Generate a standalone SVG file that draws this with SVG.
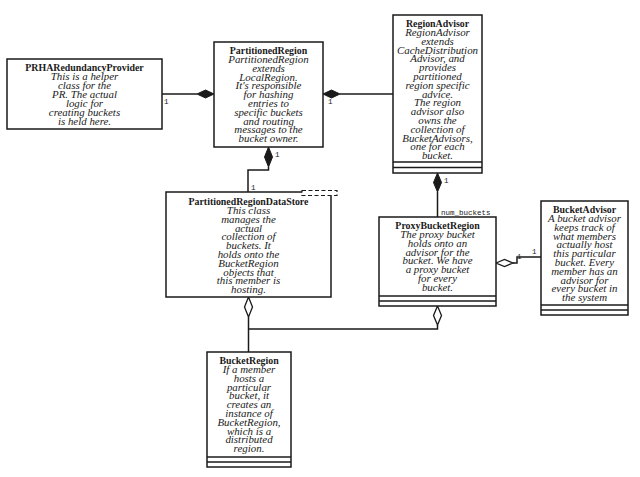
<svg xmlns="http://www.w3.org/2000/svg" width="640" height="477" viewBox="0 0 640 477">
<style>
.box{fill:#fff;stroke:#1a1a1a;stroke-width:1.5}
.cmp{stroke:#1a1a1a;stroke-width:1.5;fill:none}
.t{font-family:"Liberation Serif","Times New Roman",serif;font-weight:bold;font-size:9.9px;fill:#1a1a1a;text-anchor:middle}
.d{font-family:"Liberation Serif","Times New Roman",serif;font-style:italic;font-size:10.9px;fill:#1a1a1a;text-anchor:middle}
.ln{fill:none;stroke:#1a1a1a;stroke-width:1.5}
.fd{fill:#1a1a1a;stroke:#1a1a1a;stroke-width:1}
.hd{fill:#fff;stroke:#1a1a1a;stroke-width:1.3}
.m{font-family:"Liberation Mono","Courier New",monospace;font-size:7.5px;fill:#1a1a1a}
.tpl{fill:#fff;stroke:#1a1a1a;stroke-width:1.2;stroke-dasharray:4,2.5}
</style>
<rect width="640" height="477" fill="#fff"/>

<g id="connectors">
<line class="ln" x1="162" y1="94" x2="197" y2="94"/>
<polygon class="fd" points="214,94 205.5,90 197,94 205.5,98"/>
<text class="m" x="164" y="104">1</text>

<line class="ln" x1="340" y1="94" x2="393" y2="94"/>
<polygon class="fd" points="323,94 331.5,90 340,94 331.5,98"/>
<text class="m" x="328" y="104">1</text>
<text class="m" x="396" y="91">1</text>

<polygon class="fd" points="268.5,147 272.5,157 268.5,167 264.5,157"/>
<polyline class="ln" points="268.5,167 268.5,170 248,170 248,192"/>
<text class="m" x="275" y="157">1</text>
<text class="m" x="251" y="190">1</text>

<polygon class="fd" points="437.5,173 441.5,182.5 437.5,192 433.5,182.5"/>
<line class="ln" x1="437.5" y1="192" x2="437.5" y2="217"/>
<text class="m" x="444" y="183">1</text>
<text class="m" x="441" y="215">num_buckets</text>

<polygon class="hd" points="496,263 504.5,259.5 513,263 504.5,266.5"/>
<polyline class="ln" points="513,263 517,263 517,257 541,257"/>
<text class="m" x="517" y="259">1</text>
<text class="m" x="532" y="254">1</text>

<polygon class="hd" points="248.5,297 252.5,307 248.5,317 244.5,307"/>
<polygon class="hd" points="437.5,306 441.5,315.5 437.5,325 433.5,315.5"/>
<polyline class="ln" points="248.5,317 248.5,352"/>
<polyline class="ln" points="248.5,329 437.5,329 437.5,325"/>
</g>

<g id="PRHARedundancyProvider">
<rect class="box" x="7" y="59" width="155" height="70"/>
<text class="t" x="84.5" y="71">PRHARedundancyProvider</text>
<text class="d" x="84.5" y="80">This is a helper</text>
<text class="d" x="84.5" y="89">class for the</text>
<text class="d" x="84.5" y="98">PR. The actual</text>
<text class="d" x="84.5" y="107">logic for</text>
<text class="d" x="84.5" y="116">creating buckets</text>
<text class="d" x="84.5" y="125">is held here.</text>
</g>

<g id="PartitionedRegion">
<rect class="box" x="214" y="42" width="109" height="105"/>
<text class="t" x="268.5" y="54">PartitionedRegion</text>
<text class="d" x="268.5" y="63">PartitionedRegion</text>
<text class="d" x="268.5" y="71.8">extends</text>
<text class="d" x="268.5" y="80.6">LocalRegion.</text>
<text class="d" x="268.5" y="89.4">It's responsible</text>
<text class="d" x="268.5" y="98.2">for hashing</text>
<text class="d" x="268.5" y="107">entries to</text>
<text class="d" x="268.5" y="115.8">specific buckets</text>
<text class="d" x="268.5" y="124.6">and routing</text>
<text class="d" x="268.5" y="133.4">messages to the</text>
<text class="d" x="268.5" y="142.2">bucket owner.</text>
</g>

<g id="RegionAdvisor">
<rect class="box" x="393" y="15" width="89" height="158"/>
<line class="cmp" x1="393" y1="162" x2="482" y2="162"/>
<line class="cmp" x1="393" y1="167.5" x2="482" y2="167.5"/>
<text class="t" x="437.5" y="27">RegionAdvisor</text>
<text class="d" x="437.5" y="36">RegionAdvisor</text>
<text class="d" x="437.5" y="44.8">extends</text>
<text class="d" x="437.5" y="53.6">CacheDistribution</text>
<text class="d" x="437.5" y="62.4">Advisor, and</text>
<text class="d" x="437.5" y="71.2">provides</text>
<text class="d" x="437.5" y="80">partitioned</text>
<text class="d" x="437.5" y="88.8">region specific</text>
<text class="d" x="437.5" y="97.6">advice.</text>
<text class="d" x="437.5" y="106.4">The region</text>
<text class="d" x="437.5" y="115.2">advisor also</text>
<text class="d" x="437.5" y="124">owns the</text>
<text class="d" x="437.5" y="132.8">collection of</text>
<text class="d" x="437.5" y="141.6">BucketAdvisors,</text>
<text class="d" x="437.5" y="150.4">one for each</text>
<text class="d" x="437.5" y="159.2">bucket.</text>
</g>

<g id="PartitionedRegionDataStore">
<rect class="box" x="166" y="192" width="165" height="105"/>
<rect class="tpl" x="302" y="190.5" width="35" height="5"/>
<text class="t" x="248.5" y="205">PartitionedRegionDataStore</text>
<text class="d" x="248.5" y="214">This class</text>
<text class="d" x="248.5" y="222.8">manages the</text>
<text class="d" x="248.5" y="231.6">actual</text>
<text class="d" x="248.5" y="240.4">collection of</text>
<text class="d" x="248.5" y="249.2">buckets. It</text>
<text class="d" x="248.5" y="258">holds onto the</text>
<text class="d" x="248.5" y="266.8">BucketRegion</text>
<text class="d" x="248.5" y="275.6">objects that</text>
<text class="d" x="248.5" y="284.4">this member is</text>
<text class="d" x="248.5" y="293.2">hosting.</text>
</g>

<g id="ProxyBucketRegion">
<rect class="box" x="379" y="217" width="117" height="89"/>
<line class="cmp" x1="379" y1="296" x2="496" y2="296"/>
<line class="cmp" x1="379" y1="301" x2="496" y2="301"/>
<text class="t" x="437.5" y="229">ProxyBucketRegion</text>
<text class="d" x="437.5" y="238">The proxy bucket</text>
<text class="d" x="437.5" y="246.8">holds onto an</text>
<text class="d" x="437.5" y="255.6">advisor for the</text>
<text class="d" x="437.5" y="264.4">bucket. We have</text>
<text class="d" x="437.5" y="273.2">a proxy bucket</text>
<text class="d" x="437.5" y="282">for every</text>
<text class="d" x="437.5" y="290.8">bucket.</text>
</g>

<g id="BucketAdvisor">
<rect class="box" x="541" y="201" width="87" height="114"/>
<line class="cmp" x1="541" y1="305" x2="628" y2="305"/>
<line class="cmp" x1="541" y1="310" x2="628" y2="310"/>
<text class="t" x="584.5" y="213">BucketAdvisor</text>
<text class="d" x="584.5" y="222">A bucket advisor</text>
<text class="d" x="584.5" y="230.8">keeps track of</text>
<text class="d" x="584.5" y="239.6">what members</text>
<text class="d" x="584.5" y="248.4">actually host</text>
<text class="d" x="584.5" y="257.2">this particular</text>
<text class="d" x="584.5" y="266">bucket. Every</text>
<text class="d" x="584.5" y="274.8">member has an</text>
<text class="d" x="584.5" y="283.6">advisor for</text>
<text class="d" x="584.5" y="292.4">every bucket in</text>
<text class="d" x="584.5" y="301.2">the system</text>
</g>

<g id="BucketRegion">
<rect class="box" x="207" y="352" width="84" height="115"/>
<line class="cmp" x1="207" y1="457" x2="291" y2="457"/>
<line class="cmp" x1="207" y1="462" x2="291" y2="462"/>
<text class="t" x="249" y="364">BucketRegion</text>
<text class="d" x="249" y="373">If a member</text>
<text class="d" x="249" y="381.8">hosts a</text>
<text class="d" x="249" y="390.6">particular</text>
<text class="d" x="249" y="399.4">bucket, it</text>
<text class="d" x="249" y="408.2">creates an</text>
<text class="d" x="249" y="417">instance of</text>
<text class="d" x="249" y="425.8">BucketRegion,</text>
<text class="d" x="249" y="434.6">which is a</text>
<text class="d" x="249" y="443.4">distributed</text>
<text class="d" x="249" y="452.2">region.</text>
</g>
</svg>
